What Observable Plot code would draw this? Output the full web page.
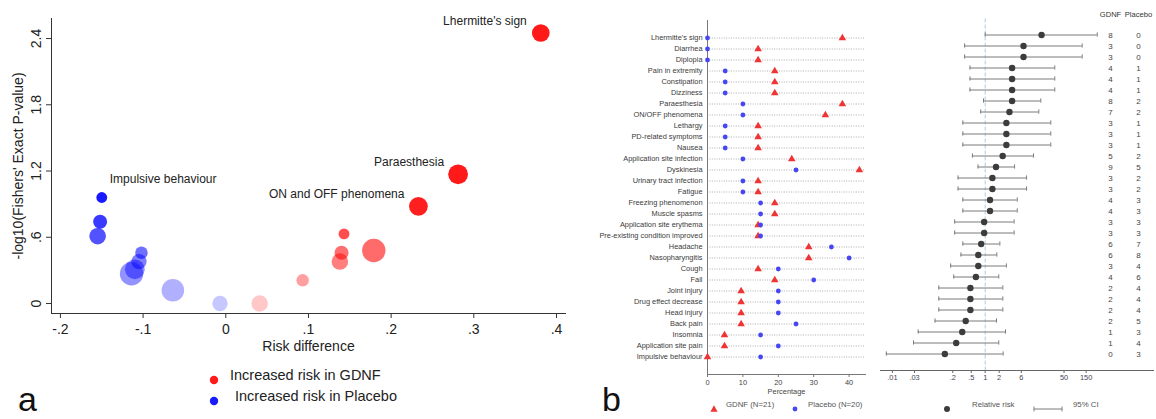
<!DOCTYPE html>
<html><head><meta charset="utf-8">
<script src="https://cdn.jsdelivr.net/npm/d3@7"></script>
<script src="https://cdn.jsdelivr.net/npm/@observablehq/plot@0.6"></script>
<style>
body{margin:0;background:#fff;}
#root{position:relative;width:1156px;height:419px;overflow:hidden;font-family:"Liberation Sans",Arial,sans-serif;background:#fff;}
.abs{position:absolute;}
.lg{position:absolute;white-space:nowrap;line-height:1;}
</style></head><body><div id="root"></div>
<script>
// ---------- Panel a: bubble chart (unique bubbles) ----------
const bubbleRD      = [0.381, 0.281, 0.233, 0.143, 0.179, 0.140, 0.138, 0.093, 0.041, -0.007, -0.064, -0.114, -0.110, -0.105, -0.102, -0.155, -0.152, -0.150];
const bubbleNegLogP = [2.45, 1.17, 0.88, 0.63, 0.48, 0.46, 0.38, 0.21, 0.0, 0.0, 0.12, 0.27, 0.31, 0.38, 0.46, 0.61, 0.74, 0.96];
const bubbleEvents  = [8, 10, 9, 3, 14, 5, 7, 4, 7, 6, 13, 14, 10, 6, 4, 7, 5, 3];
const bubbleLabels  = ["Lhermitte's sign", "Paraesthesia", "ON and OFF phenomena", "", "", "", "", "", "", "", "", "", "", "", "", "", "", "Impulsive behaviour"];
const rdTicks = [-0.2, -0.1, 0, 0.1, 0.2, 0.3, 0.4];
const rdTickLabels = ["-.2", "-.1", "0", ".1", ".2", ".3", ".4"];
const pTicks = [0, 0.6, 1.2, 1.8, 2.4];
const pTickLabels = ["0", ".6", "1.2", "1.8", "2.4"];
const legendA = ["Increased risk in GDNF", "Increased risk in Placebo"];

// ---------- Panel b: adverse events ----------
const aeNames = ["Lhermitte's sign","Diarrhea","Diplopia","Pain in extremity","Constipation","Dizziness","Paraesthesia","ON/OFF phenomena","Lethargy","PD-related symptoms","Nausea","Application site infection","Dyskinesia","Urinary tract infection","Fatigue","Freezing phenomenon","Muscle spasms","Application site erythema","Pre-existing condition improved","Headache","Nasopharyngitis","Cough","Fall","Joint injury","Drug effect decrease","Head injury","Back pain","Insomnia","Application site pain","Impulsive behaviour"];
const gdnfCount    = [8,3,3,4,4,4,8,7,3,3,3,5,9,3,3,4,4,3,3,6,6,3,4,2,2,2,2,1,1,0];
const placeboCount = [0,0,0,1,1,1,2,2,1,1,1,2,5,2,2,3,3,3,3,7,8,4,6,4,4,4,5,3,4,3];
const gdnfPct    = [38.1,14.3,14.3,19.0,19.0,19.0,38.1,33.3,14.3,14.3,14.3,23.8,42.9,14.3,14.3,19.0,19.0,14.3,14.3,28.6,28.6,14.3,19.0,9.5,9.5,9.5,9.5,4.8,4.8,0];
const placeboPct = [0,0,0,5,5,5,10,10,5,5,5,10,25,10,10,15,15,15,15,35,40,20,30,20,20,20,25,15,20,15];
const relRisk = [16.4,6.7,6.7,3.8,3.8,3.8,3.8,3.33,2.86,2.86,2.86,2.38,1.71,1.43,1.43,1.27,1.27,0.95,0.95,0.82,0.71,0.71,0.63,0.48,0.48,0.48,0.38,0.32,0.237,0.135];
const ciLow   = [1.0,0.36,0.36,0.47,0.47,0.47,0.92,0.80,0.33,0.33,0.33,0.53,0.70,0.26,0.26,0.33,0.33,0.22,0.22,0.33,0.30,0.18,0.21,0.10,0.10,0.10,0.083,0.036,0.0285,0.0074];
const ciHigh  = [260,123,123,31.6,31.6,31.6,15.8,14.3,25.9,25.9,25.9,11,4.3,7.8,7.8,4.9,4.9,4.2,4.2,2.07,1.78,2.86,1.96,2.4,2.4,2.4,1.75,2.74,1.96,2.44];
const pctTicks = [0,10,20,30,40];
const rrTicks = [0.01,0.03,0.2,0.5,1,2,6,50,150];
const rrTickLabels = [".01",".03",".2",".5","1","2","6","50","150"];
const groups = ["GDNF","Placebo"];
const legendB = ["GDNF (N=21)", "Placebo (N=20)"];
const legendC = ["Relative risk", "95% CI"];

const FONT = '"Liberation Sans", Arial, sans-serif';
const root = document.getElementById("root");
function place(el, left, top, width){
  const d = document.createElement("div");
  d.className = "abs"; d.style.left = left+"px"; d.style.top = top+"px"; d.style.width = width+"px";
  d.appendChild(el); root.appendChild(d); return d;
}
function label(text, left, top, size, color, extra){
  const d = document.createElement("div");
  d.className = "lg"; d.textContent = text;
  d.style.left = left+"px"; d.style.top = top+"px"; d.style.fontSize = size+"px"; d.style.color = color;
  if (extra) Object.assign(d.style, extra);
  root.appendChild(d); return d;
}
function svgIcon(left, top, w, h, inner){
  const d = document.createElement("div");
  d.className = "abs"; d.style.left = left+"px"; d.style.top = top+"px";
  d.innerHTML = `<svg width="${w}" height="${h}" xmlns="http://www.w3.org/2000/svg">${inner}</svg>`;
  root.appendChild(d);
}

// ---------- Panel a ----------
const bubbles = bubbleRD.map((rd,i)=>({rd, p: bubbleNegLogP[i], n: bubbleEvents[i], label: bubbleLabels[i], group: rd > 0 ? groups[0] : groups[1]}));
const plotA = Plot.plot({
  width: 580, height: 360,
  marginLeft: 51, marginRight: 15, marginTop: 18, marginBottom: 47,
  style: {fontFamily: FONT, fontSize: "14px", color: "#222", background: "transparent"},
  x: {domain: [-0.2108, 0.4109]},
  y: {domain: [-0.0906, 2.5815]},
  r: {type: "sqrt", domain: [0, 14], range: [0, 11.7]},
  color: {domain: groups, range: ["#ff0000", "#0000ff"]},
  opacity: {type: "identity"},
  marks: [
    Plot.frame({anchor: "left", stroke: "#333"}),
    Plot.frame({anchor: "bottom", stroke: "#333"}),
    Plot.axisX({ticks: rdTicks, tickFormat: d => rdTickLabels[rdTicks.indexOf(d)], tickSize: 5, tickPadding: 6, stroke: "#333",
      label: "Risk difference", labelAnchor: "center", labelArrow: "none", labelOffset: 37}),
    Plot.axisY({ticks: pTicks, tickFormat: d => pTickLabels[pTicks.indexOf(d)], tickSize: 5, tickPadding: 6, tickRotate: -90, stroke: "#333",
      label: "-log10(Fishers' Exact P-value)", labelAnchor: "center", labelArrow: "none", labelOffset: 38}),
    Plot.dot(bubbles, {x: "rd", y: "p", r: "n", fill: "group", fillOpacity: d => Math.min(0.9, 0.22 + 0.75*d.p), stroke: "none"}),
    Plot.text(bubbles.filter(d => d.label && d.rd > 0), {x: "rd", y: "p", text: "label", textAnchor: "end", dx: -14, dy: -12, fontSize: 12, fill: "#222"}),
    Plot.text(bubbles.filter(d => d.label && d.rd < 0), {x: "rd", y: "p", text: "label", textAnchor: "start", dx: 8, dy: -18, fontSize: 12, fill: "#222"})
  ]
});
place(plotA, 0, 0, 580);

// legend a
svgIcon(209, 371, 10, 10, `<circle cx="5" cy="5" r="4.2" fill="#ff1a1a"/>`);
svgIcon(209, 392, 10, 10, `<circle cx="5" cy="5" r="4.2" fill="#1a1aff"/>`);
label(legendA[0], 230, 368, 14.5, "#222");
label(legendA[1], 235, 389, 14.5, "#222");
label("a", 18, 382, 34, "#111");

// ---------- Panel b: dot plot ----------
const rows = aeNames.map((name,i)=>({name, g: gdnfPct[i], pl: placeboPct[i], rr: relRisk[i], lo: ciLow[i], hi: ciHigh[i], gc: gdnfCount[i], pc: placeboCount[i]}));
const plotB = Plot.plot({
  width: 270, height: 396,
  marginLeft: 107, marginRight: 5, marginTop: 20, marginBottom: 22,
  style: {fontFamily: FONT, fontSize: "7.4px", color: "#3a3a3a", background: "transparent", overflow: "visible"},
  x: {domain: [0, 44.63]},
  y: {domain: aeNames, type: "band", padding: 0},
  marks: [
    Plot.ruleY(aeNames, {stroke: "#999", strokeDasharray: "1,1.4", strokeWidth: 0.8}),
    Plot.frame({anchor: "left", stroke: "#777"}),
    Plot.frame({anchor: "bottom", stroke: "#777"}),
    Plot.axisY({tickSize: 0, tickPadding: 5, label: null, fill: "#3a3a3a"}),
    Plot.axisX({ticks: pctTicks, tickSize: 3, tickPadding: 2, stroke: "#777", fill: "#444", label: "Percentage", labelAnchor: "center", labelArrow: "none", labelOffset: 19}),
    Plot.dot(rows, {x: "g", y: "name", symbol: "triangle", r: 2.8, fill: "#f03434", stroke: "none"}),
    Plot.dot(rows, {x: "pl", y: "name", symbol: "circle", r: 2.4, fill: "#4646f2", stroke: "none"})
  ]
});
place(plotB, 600, 0, 270);

// ---------- Panel b: forest plot ----------
const plotC = Plot.plot({
  width: 286, height: 392,
  marginLeft: 10, marginRight: 3, marginTop: 18.5, marginBottom: 22,
  style: {fontFamily: FONT, fontSize: "7.4px", color: "#445", background: "transparent"},
  x: {type: "log", domain: [0.00554, 4240]},
  y: {domain: aeNames, type: "band", padding: 0, axis: null},
  marks: [
    Plot.ruleX([1], {stroke: "#a9cde0", strokeDasharray: "4,2"}),
    Plot.frame({anchor: "bottom", stroke: "#666"}),
    Plot.axisX({ticks: rrTicks, tickFormat: () => "", tickSize: 3, stroke: "#666", label: null}),
    Plot.text(rrTicks, {x: d => d, text: d => rrTickLabels[rrTicks.indexOf(d)], frameAnchor: "bottom", dy: 9.5, fill: "#445", fontSize: 7.4}),
    Plot.ruleY(rows, {y: "name", x1: "lo", x2: "hi", stroke: "#7a7a7a", strokeWidth: 1}),
    Plot.tickX(rows, {x: "lo", y: "name", stroke: "#7a7a7a", insetTop: 3.4, insetBottom: 3.4}),
    Plot.tickX(rows, {x: "hi", y: "name", stroke: "#7a7a7a", insetTop: 3.4, insetBottom: 3.4}),
    Plot.dot(rows, {x: "rr", y: "name", r: 3.2, fill: "#3c3c3c", stroke: "none"})
  ]
});
place(plotC, 870, 0, 286);

// counts columns
const counts = rows.flatMap(d => [{grp: groups[0], name: d.name, n: d.gc}, {grp: groups[1], name: d.name, n: d.pc}]);
const plotD = Plot.plot({
  width: 66, height: 392,
  marginLeft: 20, marginRight: 18, marginTop: 18.5, marginBottom: 22,
  style: {fontFamily: FONT, fontSize: "7.6px", color: "#333", background: "transparent", overflow: "visible"},
  x: {type: "point", domain: groups, padding: 0},
  y: {domain: aeNames, type: "band", padding: 0, axis: null},
  marks: [
    Plot.axisX({anchor: "top", tickSize: 0, tickPadding: 2, label: null}),
    Plot.text(counts, {x: "grp", y: "name", text: "n", fontSize: 8, fill: "#444"})
  ]
});
place(plotD, 1090, 0, 66);

// legends b
svgIcon(709, 400, 10, 10, `<path d="M5 1.2 L8.6 7.8 L1.4 7.8 Z" fill="#f03434"/>`);
label(legendB[0], 726, 401, 7.8, "#555");
svgIcon(790, 400, 10, 10, `<circle cx="5" cy="5" r="2.4" fill="#4646f2"/>`);
label(legendB[1], 808, 401, 7.8, "#555");
svgIcon(942, 400, 10, 10, `<circle cx="5" cy="5" r="3" fill="#3c3c3c"/>`);
label(legendC[0], 972, 401, 7.8, "#555");
svgIcon(1032, 400, 32, 10, `<line x1="2" y1="5" x2="30" y2="5" stroke="#7a7a7a"/><line x1="2" y1="2.6" x2="2" y2="7.4" stroke="#7a7a7a"/><line x1="30" y1="2.6" x2="30" y2="7.4" stroke="#7a7a7a"/>`);
label(legendC[1], 1073, 401, 7.8, "#555");
label("b", 602, 382, 34, "#111");
</script></body></html>
